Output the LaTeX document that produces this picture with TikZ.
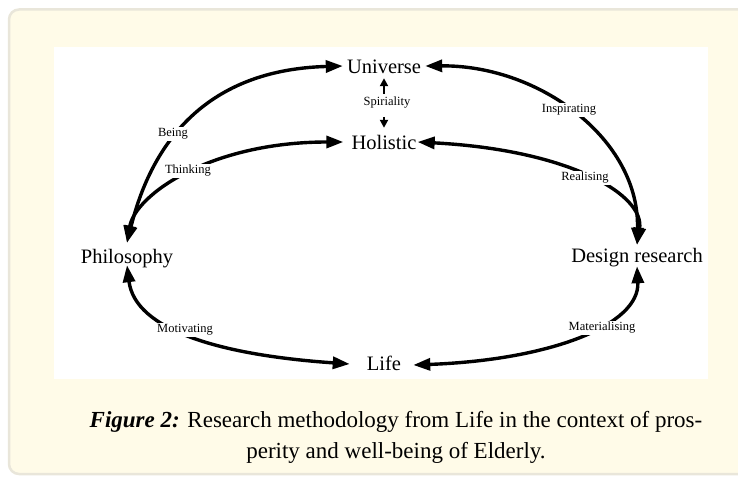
\documentclass[tikz,border=0pt]{standalone}
\usepackage{fontspec}
\setmainfont{Liberation Serif}
\usetikzlibrary{arrows.meta}
\definecolor{cream}{HTML}{FFFBE8}
\definecolor{edgegray}{HTML}{E9E6DA}
\begin{document}
\begin{tikzpicture}[x=1pt,y=-1pt,
  big/.style={font=\fontsize{20.5}{24}\selectfont, inner sep=0pt, anchor=base, text height=14pt, text depth=4pt},
  lbl/.style={font=\fontsize{12.5}{14}\selectfont, fill=white, inner sep=1.5pt},
  conn/.style={line width=3.4pt, {Triangle[length=17pt,width=12pt]}-{Triangle[length=17pt,width=12pt]}},
  sarr/.style={line width=2.5pt, -{Triangle[length=8pt,width=8pt]}},
]
\useasboundingbox (0,0) rectangle (738,476);
\begin{scope}
  \clip (0,0) rectangle (738,476);
  \draw[edgegray, line width=2.5pt, fill=cream, rounded corners=10pt] (9,9.5) rectangle (800,474);
\end{scope}
\fill[white] (54,47) rectangle (708,379);

\node[big] (U) at (384,74) {Universe};
\node[big] (H) at (384,149) {Holistic};
\node[big] (P) at (127,263) {Philosophy};
\node[big] (D) at (637,262) {Design research};
\node[big] (L) at (384,370) {Life};
\node[font=\fontsize{12.5}{14}\selectfont, inner sep=3pt] (S) at (387,103) {Spiriality};

\draw[sarr] ([xshift=-3pt]S.north) -- (U.south);
\draw[sarr] ([xshift=-3pt,yshift=-5pt]S.south) -- ([yshift=7pt]H.north);

\draw[conn] ([yshift=6pt]P.north) .. controls (150,150) and (200,70) .. ([xshift=-4pt,yshift=3pt]U.west);
\draw[conn] ([yshift=6pt]P.north) .. controls (135,195) and (210,142) .. ([xshift=-8pt,yshift=2pt]H.west);
\draw[conn] ([yshift=3pt]D.north) .. controls (640,140) and (540,65) .. ([xshift=4pt,yshift=3pt]U.east);
\draw[conn] ([yshift=3pt]D.north) .. controls (645,195) and (570,150) .. ([xshift=1pt,yshift=2pt]H.east);
\draw[conn] ([yshift=2pt]P.south) .. controls (135,330) and (220,355) .. ([xshift=-17pt,yshift=1pt]L.west);
\draw[conn] (D.south) .. controls (640,325) and (550,360) .. ([xshift=12pt]L.east);

\node[lbl] (being) at (173,134) {Being};
\node[lbl] (thinking) at (188,171) {Thinking};
\node[lbl] (insp) at (569,110) {Inspirating};
\node[lbl] (real) at (585,178) {Realising};
\node[lbl] (motiv) at (185,330) {Motivating};
\node[lbl] (mater) at (602,328) {Materialising};

\node[font=\fontsize{23}{31}\selectfont, align=center, anchor=base] (cap) at (396,458)
  {\textbf{\textit{Figure 2:}} Research methodology from Life in the context of pros-\\perity and well-being of Elderly.};
\end{tikzpicture}
\end{document}
